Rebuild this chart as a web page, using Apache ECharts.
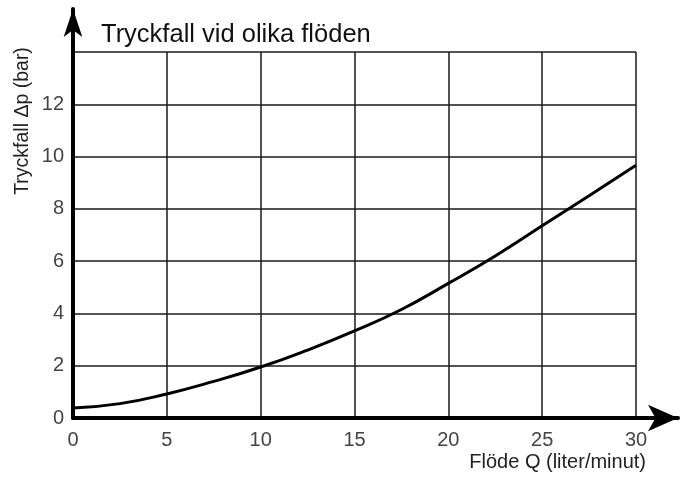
<!DOCTYPE html>
<html>
<head>
<meta charset="utf-8">
<script src="https://cdn.jsdelivr.net/npm/echarts@6/dist/echarts.min.js"></script>
<style>
  html, body { margin: 0; padding: 0; background: #fff; }
  #chart { width: 681px; height: 478px; }
</style>
</head>
<body>
<div id="chart"></div>
<script>
// Flow rate (liter/minut) and pressure drop (bar)
const flow = [0, 2.5, 5, 7.5, 10, 12.5, 15, 17.5, 20, 22.5, 25, 27.5, 30];
const pressureDrop = [0.38, 0.55, 0.92, 1.4, 1.95, 2.6, 3.33, 4.15, 5.15, 6.2, 7.35, 8.5, 9.67];
const xTicks = [0, 5, 10, 15, 20, 25, 30];
const yTicks = [0, 2, 4, 6, 8, 10, 12];

const titleText = 'Tryckfall vid olika flöden';
const xName = 'Flöde Q (liter/minut)';
const yName = 'Tryckfall \u0394p (bar)';

const FONT = '"Liberation Sans", Arial, Helvetica, sans-serif';
const chart = echarts.init(document.getElementById('chart'), null, { renderer: 'canvas' });

const gridLine = { show: true, lineStyle: { color: '#1a1a1a', width: 1.5 } };
const tickFont = { fontFamily: FONT, fontSize: 20, color: '#444' };

chart.setOption({
  backgroundColor: '#fff',
  animation: false,
  title: {
    text: titleText,
    left: 96, top: 17,
    textStyle: { fontFamily: FONT, fontSize: 25.5, fontWeight: 'normal', color: '#111' }
  },
  grid: [
    // plotting area with the grid lines
    { left: 73, right: 45, top: 52, bottom: 60 },
    // longer area that carries the arrowed axis lines
    { left: 73, right: 3, top: 9, bottom: 60 }
  ],
  xAxis: [
    {
      type: 'value', gridIndex: 0, min: 0, max: 30, interval: 5,
      axisLine: { show: false }, axisTick: { show: false },
      splitLine: gridLine,
      axisLabel: Object.assign({ margin: 12,
        formatter: v => xTicks.includes(v) ? String(v) : '' }, tickFont)
    },
    {
      type: 'value', gridIndex: 1, min: 0, max: 1,
      axisLabel: { show: false }, axisTick: { show: false }, splitLine: { show: false },
      axisLine: { show: true, symbol: ['none', 'arrow'], symbolSize: [20, 30],
        lineStyle: { color: '#000', width: 4 } }
    }
  ],
  yAxis: [
    {
      type: 'value', gridIndex: 0, min: 0, max: 14, interval: 2,
      axisLine: { show: false }, axisTick: { show: false },
      splitLine: gridLine,
      axisLabel: Object.assign({ margin: 9,
        formatter: v => yTicks.includes(v) ? String(v) : '' }, tickFont)
    },
    {
      type: 'value', gridIndex: 1, min: 0, max: 1,
      axisLabel: { show: false }, axisTick: { show: false }, splitLine: { show: false },
      axisLine: { show: true, symbol: ['none', 'arrow'], symbolSize: [14, 28],
        lineStyle: { color: '#000', width: 4 } }
    }
  ],
  graphic: [
    {
      type: 'text', right: 35, top: 452,
      style: { text: xName, font: '20px ' + FONT, fill: '#222' }
    },
    {
      type: 'text', x: 23, y: 121, rotation: Math.PI / 2,
      style: { text: yName, font: '19.5px ' + FONT, fill: '#222', align: 'center', verticalAlign: 'middle' }
    }
  ],
  series: [
    {
      type: 'line', xAxisIndex: 0, yAxisIndex: 0,
      data: flow.map((q, i) => [q, pressureDrop[i]]),
      smooth: true, showSymbol: false,
      lineStyle: { color: '#000', width: 3 }
    }
  ]
});
</script>
</body>
</html>
